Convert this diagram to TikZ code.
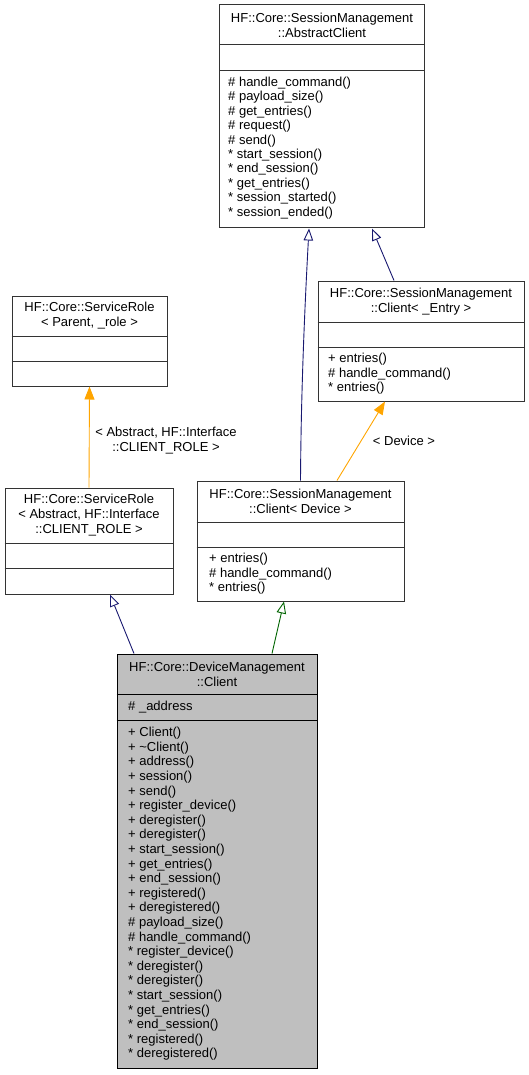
\documentclass[tikz,border=0pt]{standalone}
\usepackage{fontspec}
\setmainfont{Liberation Sans}
\usetikzlibrary{arrows.meta}
\definecolor{edgeblue}{HTML}{191970}
\definecolor{edgegreen}{HTML}{006400}
\definecolor{edgeorange}{HTML}{FFA500}
\definecolor{nodegray}{HTML}{BFBFBF}
\definecolor{boxline}{HTML}{333333}
\begin{document}
\begin{tikzpicture}[x=1pt,y=-1pt,
  classbox/.style={draw=boxline, line width=1pt, rectangle, inner sep=0pt, fill=white},
  sepline/.style={draw=boxline, line width=1pt},
  titletext/.style={font=\fontsize{13}{15}\selectfont, align=center, inner sep=0pt},
  membertext/.style={font=\fontsize{13}{14.4}\selectfont, align=left, inner sep=0pt, anchor=west},
  edgelabel/.style={font=\fontsize{13}{15}\selectfont, align=center, inner sep=0pt},
  inherit/.style={line width=0.9pt, -{Triangle[open,length=12pt,width=9.5pt,fill=white]}},
  instance/.style={draw=edgeorange, line width=0.9pt, -{Triangle[length=13pt,width=10pt]}},
]
\useasboundingbox (0,0) rectangle (529,1075);

% HF::Core::SessionManagement::AbstractClient
\node[classbox, minimum width=205pt, minimum height=223pt] (ac) at (322,116.5) {};
\draw[sepline] (ac.west |- 0,45) -- (ac.east |- 0,45);
\draw[sepline] (ac.west |- 0,71) -- (ac.east |- 0,71);
\node[titletext] (ac-t) at (322,25) {HF::Core::SessionManagement\\::AbstractClient};
\node[membertext] (ac-m) at (228,148) {\# handle\_command()\\\# payload\_size()\\\# get\_entries()\\\# request()\\\# send()\\* start\_session()\\* end\_session()\\* get\_entries()\\* session\_started()\\* session\_ended()};

% HF::Core::SessionManagement::Client< _Entry >
\node[classbox, minimum width=206pt, minimum height=120pt] (ce) at (421,341) {};
\draw[sepline] (ce.west |- 0,322) -- (ce.east |- 0,322);
\draw[sepline] (ce.west |- 0,347) -- (ce.east |- 0,347);
\node[titletext] (ce-t) at (421,301.5) {HF::Core::SessionManagement\\::Client< \_Entry >};
\node[membertext, font=\fontsize{13}{14.5}\selectfont] (ce-m) at (328,374) {+ entries()\\\# handle\_command()\\* entries()};

% HF::Core::ServiceRole< Parent, _role >
\node[classbox, minimum width=155pt, minimum height=90pt] (srp) at (89.5,341) {};
\draw[sepline] (srp.west |- 0,336) -- (srp.east |- 0,336);
\draw[sepline] (srp.west |- 0,361) -- (srp.east |- 0,361);
\node[titletext] (srp-t) at (89.5,316) {HF::Core::ServiceRole\\< Parent, \_role >};

% HF::Core::ServiceRole< Abstract, HF::Interface::CLIENT_ROLE >
\node[classbox, minimum width=168pt, minimum height=106pt] (sra) at (89,541) {};
\draw[sepline] (sra.west |- 0,543) -- (sra.east |- 0,543);
\draw[sepline] (sra.west |- 0,568) -- (sra.east |- 0,568);
\node[titletext] (sra-t) at (89,515.5) {HF::Core::ServiceRole\\< Abstract, HF::Interface\\::CLIENT\_ROLE >};

% HF::Core::SessionManagement::Client< Device >
\node[classbox, minimum width=207pt, minimum height=120pt] (cd) at (300.5,541) {};
\draw[sepline] (cd.west |- 0,522) -- (cd.east |- 0,522);
\draw[sepline] (cd.west |- 0,547) -- (cd.east |- 0,547);
\node[titletext] (cd-t) at (300.5,501.5) {HF::Core::SessionManagement\\::Client< Device >};
\node[membertext, font=\fontsize{13}{14.5}\selectfont] (cd-m) at (209,574) {+ entries()\\\# handle\_command()\\* entries()};

% HF::Core::DeviceManagement::Client
\node[classbox, fill=nodegray, draw=black, minimum width=200pt, minimum height=414pt] (dc) at (217,861) {};
\draw[sepline, draw=black] (dc.west |- 0,694) -- (dc.east |- 0,694);
\draw[sepline, draw=black] (dc.west |- 0,720) -- (dc.east |- 0,720);
\node[titletext] (dc-t) at (217,674) {HF::Core::DeviceManagement\\::Client};
\node[membertext] (dc-a) at (128,707) {\# \_address};
\node[membertext, font=\fontsize{13}{14.6}\selectfont] (dc-m) at (128,894) {+ Client()\\+ \textasciitilde Client()\\+ address()\\+ session()\\+ send()\\+ register\_device()\\+ deregister()\\+ deregister()\\+ start\_session()\\+ get\_entries()\\+ end\_session()\\+ registered()\\+ deregistered()\\\# payload\_size()\\\# handle\_command()\\* register\_device()\\* deregister()\\* deregister()\\* start\_session()\\* get\_entries()\\* end\_session()\\* registered()\\* deregistered()};

% inheritance and template instantiation edges
\draw[inherit, draw=edgeblue] (cd.north) .. controls (301,400) and (304,320) .. ([xshift=-13pt]ac.south);
\draw[inherit, draw=edgeblue] ([xshift=-27pt]ce.north) -- ([xshift=50pt]ac.south);
\draw[instance] (sra.north) -- (srp.south);
\node[edgelabel] (l-sr) at (166,440.5) {< Abstract, HF::Interface\\::CLIENT\_ROLE >};
\draw[instance] ([xshift=36.5pt]cd.north) -- ([xshift=-36pt]ce.south);
\node[edgelabel] (l-cd) at (404,441) {< Device >};
\draw[inherit, draw=edgeblue] ([xshift=-83pt]dc.north) -- ([xshift=21pt]sra.south);
\draw[inherit, draw=edgegreen] ([xshift=55pt]dc.north) -- ([xshift=-16.5pt]cd.south);
\end{tikzpicture}
\end{document}
